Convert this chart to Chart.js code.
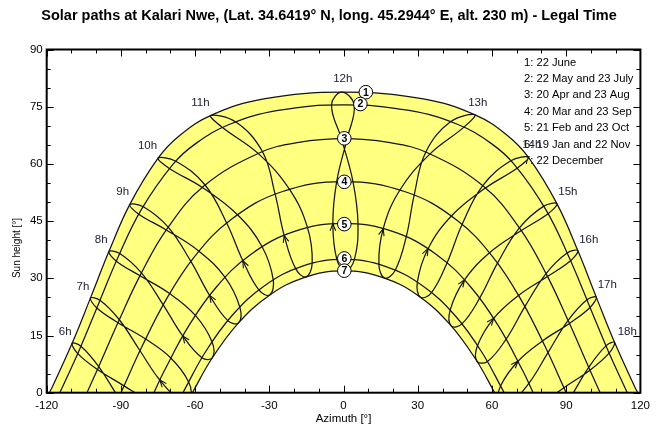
<!DOCTYPE html>
<html>
<head>
<meta charset="utf-8">
<script src="https://cdn.jsdelivr.net/npm/chart.js@4.4.1/dist/chart.umd.min.js"></script>
<style>
  html, body { margin: 0; padding: 0; background: #fff; }
  canvas { display: block; }
</style>
</head>
<body>
<canvas id="chart" width="656" height="429"></canvas>
<script>
// Chart text
const chartTitle = 'Solar paths at Kalari Nwe, (Lat. 34.6419° N, long. 45.2944° E, alt. 230 m) - Legal Time';
const legendLines = ['1: 22 June', '2: 22 May and 23 July', '3: 20 Apr and 23 Aug', '4: 20 Mar and 23 Sep',
                     '5: 21 Feb and 23 Oct', '6: 19 Jan and 22 Nov', '7: 22 December'];
const hours = ['6h', '7h', '8h', '9h', '10h', '11h', '12h', '13h', '14h', '15h', '16h', '17h', '18h'];

// Sun position at each clock hour (6h..18h) for each date: azimuth [°], height [°]
const azDec22  = [-70.01, -62.06, -53.04, -42.45, -29.86, -15.23, 0.76, 16.67, 31.12, 43.52, 53.94, 62.84, 70.72];
const altDec22 = [-12.53, -1.25, 9.16, 18.31, 25.61, 30.35, 31.92, 30.04, 25.02, 17.52, 8.23, -2.27, -13.61];
const azJan19  = [-74.20, -66.21, -57.26, -46.79, -34.25, -19.37, -2.69, 14.28, 29.82, 43.10, 54.17, 63.52, 71.76];
const altJan19 = [-13.28, -1.67, 9.18, 18.91, 26.95, 32.54, 34.91, 33.63, 28.99, 21.64, 12.37, 1.82, -9.59];
const azFeb21  = [-82.70, -74.28, -65.00, -54.12, -40.72, -24.01, -4.32, 16.04, 34.17, 48.89, 60.69, 70.52, 79.20];
const altFeb21 = [-8.76, 3.33, 14.87, 25.50, 34.62, 41.25, 44.31, 43.03, 37.77, 29.56, 19.49, 8.26, -3.65];
const azMar20  = [-90.90, -82.28, -72.90, -61.73, -47.25, -27.66, -2.78, 22.79, 43.60, 59.02, 70.74, 80.39, 89.10];
const altMar20 = [-1.30, 11.00, 23.05, 34.43, 44.49, 52.05, 55.33, 53.16, 46.34, 36.69, 25.52, 13.57, 1.30];
const azApr20  = [-98.97, -90.65, -81.70, -70.90, -55.99, -32.76, 1.43, 34.97, 57.37, 71.85, 82.44, 91.31, 99.61];
const altApr20 = [6.84, 19.13, 31.43, 43.41, 54.47, 63.17, 66.60, 62.64, 53.67, 42.51, 30.48, 18.17, 5.90];
const azMay22  = [-106.16, -98.47, -90.47, -81.08, -67.80, -43.66, 4.30, 48.68, 70.28, 82.67, 91.76, 99.65, 107.36];
const altMay22 = [12.18, 24.22, 36.52, 48.81, 60.70, 71.03, 75.42, 69.64, 58.93, 46.94, 34.62, 22.36, 10.36];
const azJun22  = [-109.72, -102.31, -94.86, -86.43, -74.98, -53.70, -0.71, 53.06, 74.69, 86.25, 94.70, 102.17, 109.56];
const altJun22 = [12.95, 24.81, 37.01, 49.33, 61.50, 72.68, 78.80, 72.88, 61.74, 49.57, 37.25, 25.05, 13.19];
const azJul23  = [-107.44, -99.73, -91.84, -82.79, -70.42, -48.94, -4.86, 43.34, 67.61, 80.94, 90.37, 98.39, 106.08];
const altJul23 = [10.25, 22.23, 34.50, 46.82, 58.82, 69.55, 75.41, 71.09, 60.81, 48.93, 36.64, 24.35, 12.29];
const azAug23  = [-99.48, -91.18, -82.29, -71.67, -57.11, -34.55, -0.86, 33.21, 56.27, 71.10, 81.85, 90.78, 99.10];
const altAug23 = [6.09, 18.36, 30.67, 42.69, 53.83, 62.75, 66.61, 63.07, 54.31, 43.23, 31.24, 18.94, 6.65];
const azSep23  = [-88.76, -80.03, -70.30, -58.47, -42.88, -21.84, 3.83, 28.55, 47.91, 62.23, 73.30, 82.63, 91.24];
const altSep23 = [1.79, 14.06, 25.99, 37.11, 46.66, 53.31, 55.30, 51.82, 44.11, 33.99, 22.58, 10.51, -1.79];
const azOct23  = [-78.59, -69.84, -59.90, -47.90, -32.92, -14.57, 5.83, 25.35, 41.82, 55.01, 65.73, 74.89, 83.31];
const altOct23 = [-2.76, 9.11, 20.28, 30.26, 38.28, 43.28, 44.23, 40.89, 34.04, 24.79, 14.06, 2.45, -9.66];
const azNov22  = [-70.99, -62.67, -53.18, -41.93, -28.42, -12.68, 4.34, 20.90, 35.56, 47.87, 58.17, 67.00, 74.95];
const altNov22 = [-8.46, 2.89, 13.35, 22.45, 29.59, 33.94, 34.84, 32.13, 26.27, 18.06, 8.18, -2.77, -14.43];

// Day paths, sunrise to sunset
const pathAz1  = [-118.91, -117.55, -109.64, -102.24, -94.78, -86.34, -74.83, -66.24, -53.38, -32.25, 0, 32.25, 53.38, 66.24, 74.83, 86.34, 94.78, 102.24, 109.64, 117.55, 118.91];
const pathAlt1 = [0, 1.76, 13.07, 24.93, 37.13, 49.45, 61.62, 67.44, 72.78, 77.03, 78.80, 77.03, 72.78, 67.44, 61.62, 49.45, 37.13, 24.93, 13.07, 1.76, 0];
const pathAz2  = [-114.69, -106.76, -99.06, -91.12, -81.88, -69.07, -59.65, -46.23, -26.44, 0, 26.44, 46.23, 59.65, 69.07, 81.88, 91.12, 99.06, 106.76, 114.69];
const pathAlt2 = [0, 11.27, 23.29, 35.57, 47.88, 59.82, 65.38, 70.33, 74.02, 75.46, 74.02, 70.33, 65.38, 59.82, 47.88, 35.57, 23.29, 11.27, 0];
const pathAz3  = [-103.72, -99.29, -90.98, -82.07, -71.38, -56.69, -33.88, -18.08, 0, 18.08, 33.88, 56.69, 71.38, 82.07, 90.98, 99.29, 103.72];
const pathAlt3 = [0, 6.37, 18.65, 30.96, 42.96, 54.07, 62.91, 65.63, 66.61, 65.63, 62.91, 54.07, 42.96, 30.96, 18.65, 6.37, 0];
const pathAz4  = [-90, -81.34, -71.83, -60.39, -45.45, -25.24, 0, 25.24, 45.45, 60.39, 71.83, 81.34, 90];
const pathAlt4 = [0, 12.29, 24.29, 35.57, 45.43, 52.63, 55.36, 52.63, 45.43, 35.57, 24.29, 12.29, 0];
const pathAz5  = [-76.65, -72.41, -62.89, -51.57, -37.51, -20.08, 0, 20.08, 37.51, 51.57, 62.89, 72.41, 76.65];
const pathAlt5 = [0, 5.80, 17.21, 27.59, 36.27, 42.24, 44.41, 42.24, 36.27, 27.59, 17.21, 5.80, 0];
const pathAz6  = [-64.93, -55.73, -44.97, -32.06, -16.84, 0, 16.84, 32.06, 44.97, 55.73, 64.93];
const pathAlt6 = [0, 10.80, 20.31, 28.01, 33.14, 34.96, 33.14, 28.01, 20.31, 10.80, 0];
const pathAz7  = [-61.09, -53.49, -42.99, -30.49, -15.95, 0, 15.95, 30.49, 42.99, 53.49, 61.09];
const pathAlt7 = [0, 8.70, 17.92, 25.32, 30.20, 31.92, 30.20, 25.32, 17.92, 8.70, 0];

// Numbered date markers
const markerText = ['1', '2', '3', '4', '5', '6', '7'];
const markerAz   = [9.0, 6.8, 0.3, 0.3, 0.3, 0.3, 0.3];
const markerAlt  = [78.8, 75.7, 66.7, 55.3, 44.2, 35.2, 32.0];

// Styling
const LINE = '#141414';
const YELLOW = '#ffff80';
const FONT = '"Liberation Sans", Arial, sans-serif';
const hourDx = [-7, -7.5, -7.7, -7, -10.6, -10.3, 1, 3, 3.4, 11, 11, 11, 12.7];
const hourDy = [-11, -11.4, -11.6, -13, -12.5, -12.3, -13, -12, -12.3, -12, -11, -12, -10.7];

Chart.defaults.font.family = FONT;
Chart.defaults.font.size = 11;
Chart.defaults.color = '#000';

const xy = (az, alt) => az.map((v, i) => ({ x: v, y: alt[i] }));

const yearAz  = [azDec22, azJan19, azFeb21, azMar20, azApr20, azMay22, azJun22, azJul23, azAug23, azSep23, azOct23, azNov22];
const yearAlt = [altDec22, altJan19, altFeb21, altMar20, altApr20, altMay22, altJun22, altJul23, altAug23, altSep23, altOct23, altNov22];

const datasets = [];

// markers first so they end up on top
datasets.push({
    data: xy(markerAz, markerAlt),
    showLine: false,
    pointRadius: 6.8,
    pointBackgroundColor: '#fff',
    pointBorderColor: '#000',
    pointBorderWidth: 1
});

// hour lines: one loop through the year, wrapped so the spline closes smoothly
hours.forEach((h, i) => {
    const seq = [11, 0, 1, 2, 3, 4, 5, 6, 7, 8, 9, 10, 11, 0, 1];
    const data = seq.map(k => ({ x: yearAz[k][i], y: yearAlt[k][i] }));
    const last = data.length - 1;
    datasets.push({
        data,
        showLine: true,
        borderColor: LINE,
        borderWidth: 1.25,
        pointRadius: 0,
        tension: 0.4,
        segment: {
            borderColor: c => (c.p0DataIndex === 0 || c.p1DataIndex === last) ? 'rgba(0,0,0,0)' : LINE
        }
    });
});

// day paths, 22 December first and 22 June last (fills: yellow under June, white under December)
const paths = [[pathAz7, pathAlt7], [pathAz6, pathAlt6], [pathAz5, pathAlt5], [pathAz4, pathAlt4],
               [pathAz3, pathAlt3], [pathAz2, pathAlt2], [pathAz1, pathAlt1]];
paths.forEach(([az, alt], i) => {
    const ds = {
        data: xy(az, alt),
        showLine: true,
        borderColor: LINE,
        borderWidth: 1.25,
        pointRadius: 0,
        tension: 0.4
    };
    if (i === 0) { ds.fill = 'origin'; ds.backgroundColor = '#ffffff'; }
    if (i === paths.length - 1) { ds.fill = 'origin'; ds.backgroundColor = YELLOW; }
    datasets.push(ds);
});

const decor = {
    id: 'decor',
    beforeDatasetsDraw(chart) {
        const { ctx } = chart;
        ctx.save();
        ctx.font = '11.2px ' + FONT;
        ctx.fillStyle = '#000';
        ctx.textAlign = 'left';
        ctx.textBaseline = 'middle';
        legendLines.forEach((t, i) => ctx.fillText(t, 524, 62.5 + i * 16.4));
        ctx.restore();
    },
    afterDatasetsDraw(chart) {
        const { ctx, scales: { x, y } } = chart;
        const px = (az, alt) => [x.getPixelForValue(az), y.getPixelForValue(alt)];
        ctx.save();

        // direction arrows at 21 Feb on each hour line
        ctx.strokeStyle = LINE;
        ctx.lineWidth = 1.1;
        for (let i = 1; i < hours.length - 1; i++) {
            const [x0, y0] = px(azFeb21[i], altFeb21[i]);
            const [xa, ya] = px(azJan19[i], altJan19[i]);
            const [xb, yb] = px(azMar20[i], altMar20[i]);
            let dx = xb - xa, dy = yb - ya;
            const n = Math.hypot(dx, dy);
            dx /= n; dy /= n;
            const L = 7, s = 0.4;
            ctx.beginPath();
            ctx.moveTo(x0 - L * (dx - s * dy), y0 - L * (dy + s * dx));
            ctx.lineTo(x0, y0);
            ctx.lineTo(x0 - L * (dx + s * dy), y0 - L * (dy - s * dx));
            ctx.stroke();
        }

        // hour labels next to the 22 June end of each hour line
        ctx.font = '11.5px ' + FONT;
        ctx.fillStyle = '#1c1c30';
        ctx.textAlign = 'center';
        ctx.textBaseline = 'middle';
        hours.forEach((h, i) => {
            const [hx, hy] = px(azJun22[i], altJun22[i]);
            ctx.fillText(h, hx + hourDx[i], hy + hourDy[i]);
        });

        // marker numbers
        ctx.font = 'bold 10.5px ' + FONT;
        ctx.fillStyle = '#000';
        markerText.forEach((t, i) => {
            const [mx, my] = px(markerAz[i], markerAlt[i]);
            ctx.fillText(t, mx, my + 0.5);
        });
        ctx.restore();
    },
    afterDraw(chart) {
        const { ctx, chartArea: ca, scales: { x, y } } = chart;
        ctx.save();
        ctx.strokeStyle = '#000';

        // ticks pointing inwards on all four sides
        ctx.lineWidth = 1;
        ctx.beginPath();
        for (let v = -120; v <= 120; v += 10) {
            const p = Math.round(x.getPixelForValue(v)) + 0.5;
            const l = v % 30 === 0 ? 7 : 4;
            ctx.moveTo(p, ca.bottom); ctx.lineTo(p, ca.bottom - l);
            ctx.moveTo(p, ca.top); ctx.lineTo(p, ca.top + l);
        }
        for (let v = 0; v <= 90; v += 5) {
            const p = Math.round(y.getPixelForValue(v)) + 0.5;
            const l = v % 15 === 0 ? 7 : 4;
            ctx.moveTo(ca.left, p); ctx.lineTo(ca.left + l, p);
            ctx.moveTo(ca.right, p); ctx.lineTo(ca.right - l, p);
        }
        ctx.stroke();

        // frame
        ctx.lineWidth = 2;
        ctx.strokeRect(ca.left, ca.top, ca.right - ca.left, ca.bottom - ca.top);

        // titles
        ctx.fillStyle = '#000';
        ctx.textAlign = 'center';
        ctx.textBaseline = 'middle';
        ctx.font = 'bold 14.5px ' + FONT;
        ctx.fillText(chartTitle, 329, 16);
        ctx.font = '11.5px ' + FONT;
        ctx.fillText('Azimuth [°]', (ca.left + ca.right) / 2, 419);
        ctx.translate(17, 248);
        ctx.rotate(-Math.PI / 2);
        ctx.font = '10px ' + FONT;
        ctx.fillText('Sun height [°]', 0, 0);
        ctx.restore();
    }
};

new Chart(document.getElementById('chart'), {
    type: 'scatter',
    data: { datasets },
    options: {
        responsive: false,
        animation: false,
        devicePixelRatio: 1,
        layout: { padding: { top: 49.5, right: 11, left: 0, bottom: 0 } },
        plugins: {
            legend: { display: false },
            tooltip: { enabled: false },
            filler: { drawTime: 'beforeDatasetsDraw' }
        },
        scales: {
            x: {
                type: 'linear',
                min: -120,
                max: 120,
                border: { display: false },
                grid: { display: false, drawTicks: false },
                ticks: { stepSize: 30, padding: 6, maxRotation: 0, autoSkip: false, font: { size: 11.5 } },
                afterFit: s => { s.height = 36.3; }
            },
            y: {
                type: 'linear',
                min: 0,
                max: 90,
                border: { display: false },
                grid: { display: false, drawTicks: false },
                ticks: { stepSize: 15, padding: 4, font: { size: 11.5 } },
                afterFit: s => { s.width = 46.7; }
            }
        }
    },
    plugins: [decor]
});
</script>
</body>
</html>
